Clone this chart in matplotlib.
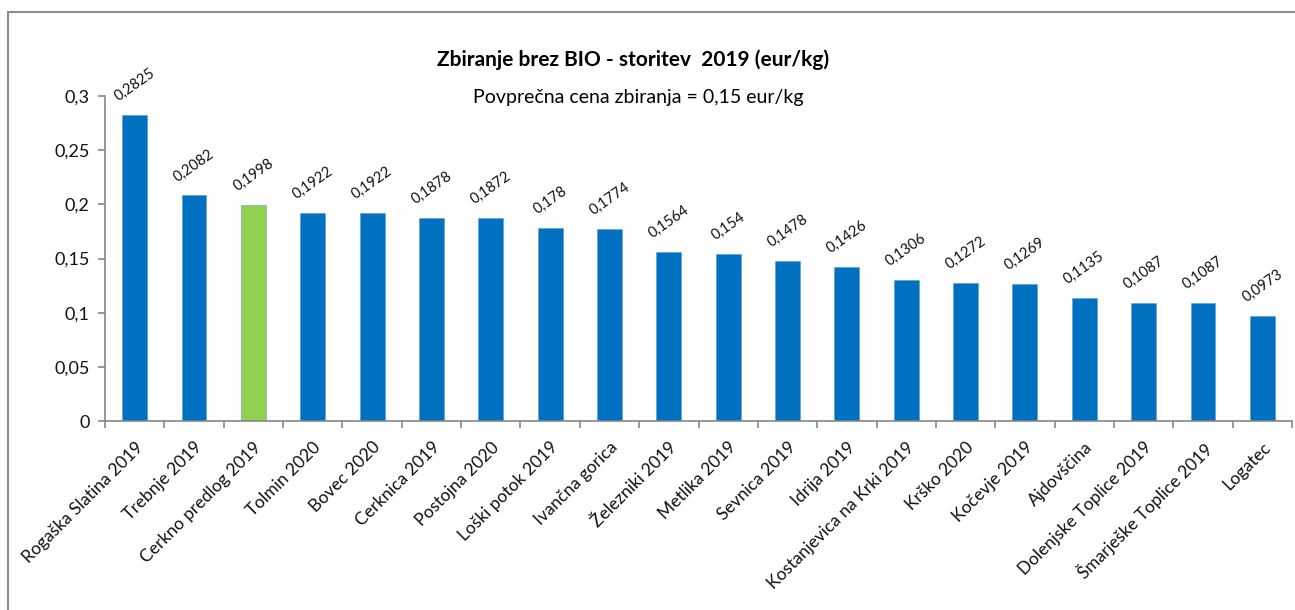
import numpy as np
import matplotlib
matplotlib.use('Agg')
from matplotlib import pyplot as plt
from matplotlib.patches import Rectangle

plt.rcParams['font.family'] = ['Lato', 'DejaVu Sans']

# podatki
kraji = ['Rogaška Slatina 2019', 'Trebnje 2019', 'Cerkno predlog 2019', 'Tolmin 2020',
         'Bovec 2020', 'Cerknica 2019', 'Postojna 2020', 'Loški potok 2019',
         'Ivančna gorica', 'Železniki 2019', 'Metlika 2019', 'Sevnica 2019',
         'Idrija 2019', 'Kostanjevica na Krki 2019', 'Krško 2020', 'Kočevje 2019',
         'Ajdovščina', 'Dolenjske Toplice 2019', 'Šmarješke Toplice 2019', 'Logatec']
cene = [0.2825, 0.2082, 0.1998, 0.1922, 0.1922, 0.1878, 0.1872, 0.178, 0.1774, 0.1564,
        0.154, 0.1478, 0.1426, 0.1306, 0.1272, 0.1269, 0.1135, 0.1087, 0.1087, 0.0973]
y_ticks = [0, 0.05, 0.1, 0.15, 0.2, 0.25, 0.3]
y_labels = ['0', '0,05', '0,1', '0,15', '0,2', '0,25', '0,3']
poudarek = 'Cerkno predlog 2019'

modra = '#0070C0'
zelena = '#92D050'
siva = '#868686'

fig = plt.figure(figsize=(12.95, 6.1), dpi=100)
ax = fig.add_axes([105/1295, 1-421/610, (1292-105)/1295, (421-96)/610])

x = np.arange(len(kraji))
barve = [zelena if k == poudarek else modra for k in kraji]
ax.bar(x, cene, width=0.42, color=barve, edgecolor='#5b9bd5', linewidth=0.4)

for xi, v in zip(x, cene):
    ax.annotate(str(v).replace('.', ','), (xi, v), xytext=(0, 8), textcoords='offset points',
                ha='center', va='bottom', rotation=35, fontsize=10.5, color='#111111')

ax.set_xlim(-0.5, len(kraji) - 0.5)
ax.set_ylim(0, 0.3)
ax.set_yticks(y_ticks)
ax.set_yticklabels(y_labels, fontsize=13, color='#111111')

# kljukice na mejah kategorij
ax.set_xticks(np.arange(-0.5, len(kraji)), minor=True)
ax.set_xticks(x)
ax.set_xticklabels(kraji, rotation=45, ha='right', rotation_mode='anchor', fontsize=12.5,
                   color='#111111')
ax.tick_params(axis='x', which='major', length=0, pad=13)
ax.tick_params(axis='x', which='minor', length=5, color=siva, width=1.2)
ax.tick_params(axis='y', length=5, color=siva, width=1.2, pad=6)

for s in ['top', 'right']:
    ax.spines[s].set_visible(False)
for s in ['left', 'bottom']:
    ax.spines[s].set_color(siva)
    ax.spines[s].set_linewidth(1.2)

fig.text(633/1295, 1-60/610, 'Zbiranje brez BIO - storitev  2019 (eur/kg)', ha='center', va='center',
         fontsize=15, fontweight='bold', color='#000000')
fig.text(638/1295, 1-97/610, 'Povprečna cena zbiranja = 0,15 eur/kg', ha='center', va='center',
         fontsize=14, color='#000000')

# okvir grafa
fig.patches.append(Rectangle((8/1295, -0.1), 1.2, 1.1 - 12/610, transform=fig.transFigure,
                             fill=False, edgecolor='#8c8c8c', linewidth=1.5))

fig.savefig('out.png', dpi=100)
